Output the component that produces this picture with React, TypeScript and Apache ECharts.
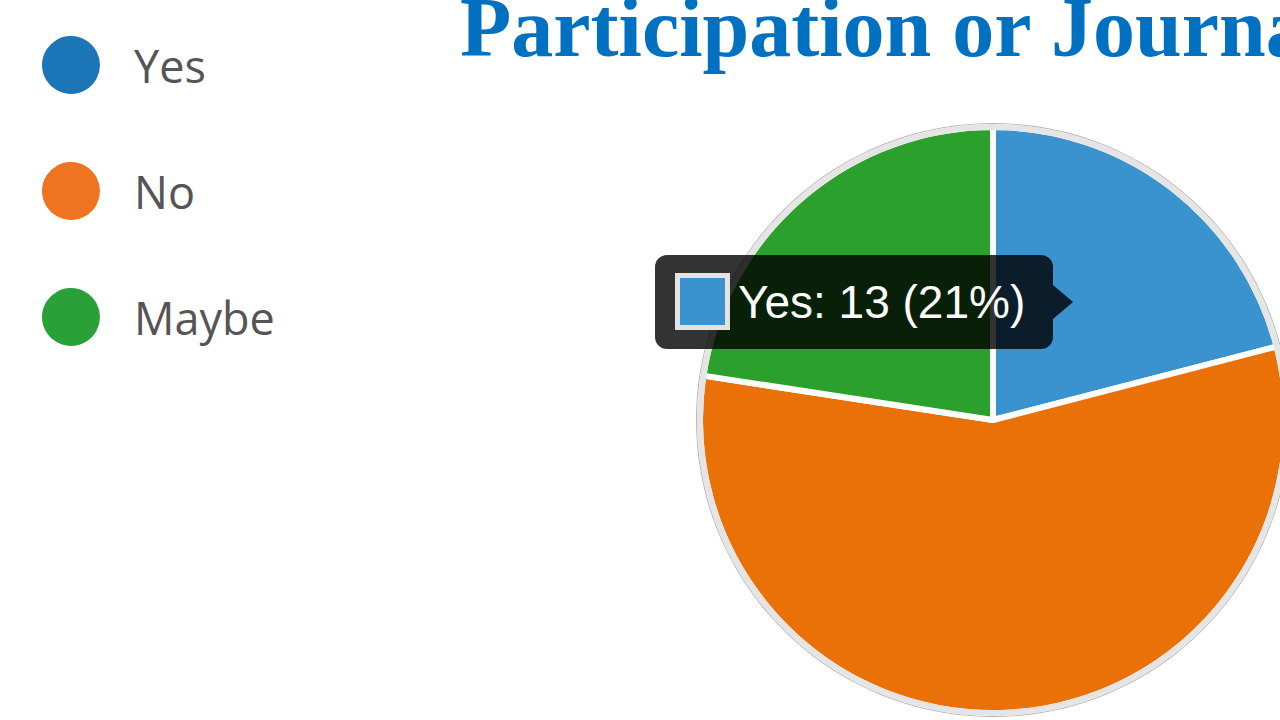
import React, { useEffect, useRef } from "react";
import * as echarts from "echarts";

const categories = ["Yes", "No", "Maybe"];
const counts = [13, 35, 14];
const sliceColors = ["#3a92cf", "#ea7108", "#2ca02c"];
const legendColors = ["#1b75b6", "#ee7421", "#2aa039"];
const titleText = "Participation or Journal";
const highlightedIndex = 0;

export default function App() {
  const ref = useRef<HTMLDivElement>(null);

  useEffect(() => {
    if (!ref.current) return;
    const chart = echarts.init(ref.current, null, { renderer: "svg" });
    const total = counts.reduce((a, b) => a + b, 0);
    const hiPct = Math.round((counts[highlightedIndex] / total) * 100);
    const tipText = `${categories[highlightedIndex]}: ${counts[highlightedIndex]} (${hiPct}%)`;
    const center = [993, 420];
    const tipFill = "rgba(0,0,0,0.8)";

    chart.setOption({
      animation: false,
      backgroundColor: "#ffffff",
      title: {
        text: titleText,
        left: 460,
        top: -15,
        padding: 0,
        textStyle: {
          fontFamily: "Liberation Serif",
          fontWeight: "bold",
          fontSize: 84,
          color: "#0070c0",
        },
      },
      legend: {
        orient: "vertical",
        left: 40,
        top: 34,
        padding: 0,
        icon: "circle",
        itemWidth: 60,
        itemHeight: 60,
        itemGap: 64,
        selectedMode: false,
        data: categories.map((c, i) => ({
          name: c,
          itemStyle: { color: legendColors[i] },
        })),
        textStyle: {
          fontFamily: "Open Sans",
          fontSize: 45,
          color: "#555555",
          padding: [0, 0, 0, 28],
        },
      },
      series: [
        {
          type: "pie",
          silent: true,
          center,
          radius: 297,
          z: 1,
          label: { show: false },
          labelLine: { show: false },
          data: [{ value: 1, name: "_outer", itemStyle: { color: "#b9b9b9" } }],
        },
        {
          type: "pie",
          silent: true,
          center,
          radius: 293,
          z: 2,
          startAngle: 90,
          clockwise: true,
          label: { show: false },
          labelLine: { show: false },
          itemStyle: { borderColor: "#ffffff", borderWidth: 6 },
          data: categories.map((c, i) => ({
            name: c,
            value: counts[i],
            itemStyle: { color: sliceColors[i] },
          })),
        },
        {
          type: "pie",
          silent: true,
          center,
          radius: [290, 296],
          z: 3,
          label: { show: false },
          labelLine: { show: false },
          data: [{ value: 1, name: "_ring", itemStyle: { color: "#e5e5e5" } }],
        },
      ],
      graphic: {
        elements: [
          {
            type: "rect",
            z: 100,
            shape: { x: 655, y: 255, width: 398, height: 94, r: 12 },
            style: { fill: tipFill },
          },
          {
            type: "polygon",
            z: 100,
            shape: { points: [[1053, 285], [1073, 302], [1053, 319]] },
            style: { fill: tipFill },
          },
          {
            type: "rect",
            z: 101,
            shape: { x: 677.5, y: 275.5, width: 50, height: 52 },
            style: {
              fill: sliceColors[highlightedIndex],
              stroke: "#e3e3e3",
              lineWidth: 5,
            },
          },
          {
            type: "text",
            z: 101,
            x: 738,
            y: 302,
            style: {
              text: tipText,
              fill: "#ffffff",
              font: "46px 'Liberation Sans', Arial, sans-serif",
              verticalAlign: "middle",
              align: "left",
            },
          },
        ],
      },
    });

    return () => chart.dispose();
  }, []);

  return (
    <div
      ref={ref}
      style={{ position: "fixed", left: 0, top: 0, width: 1280, height: 720 }}
    />
  );
}
